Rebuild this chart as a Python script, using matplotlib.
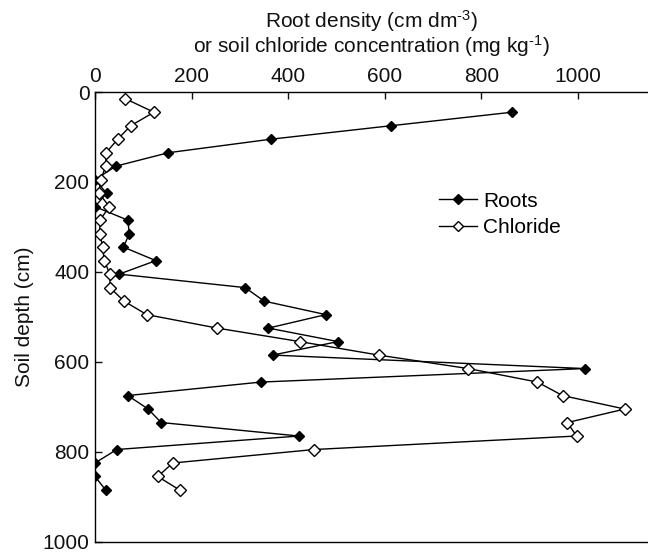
import matplotlib
matplotlib.use("Agg")
import matplotlib.pyplot as plt

plt.rcParams['font.family'] = ['Liberation Sans', 'DejaVu Sans']
plt.rcParams['mathtext.fontset'] = 'custom'
plt.rcParams['mathtext.rm'] = 'Liberation Sans'
plt.rcParams['mathtext.it'] = 'Liberation Sans:italic'

root_depth = [45, 75, 105, 135, 165, 195, 225, 255, 285, 315, 345, 375, 405, 435, 465,
              495, 525, 555, 585, 615, 645, 675, 705, 735, 765, 795, 825, 855, 885]
roots = [863, 613, 364, 152, 43, 0, 24, 0, 68, 71, 59, 126, 50, 311, 350,
         478, 359, 503, 368, 1014, 344, 68, 110, 137, 422, 45, 0, 0, 22]

chloride_depth = [15, 45, 75, 105, 135, 165, 195, 225, 255, 285, 315, 345, 375, 405, 435,
                  465, 495, 525, 555, 585, 615, 645, 675, 705, 735, 765, 795, 825, 855, 885]
chloride = [63, 122, 74, 47, 23, 22, 12, 8, 30, 10, 10, 16, 19, 31, 31,
            60, 107, 253, 424, 587, 773, 916, 968, 1097, 978, 997, 454, 161, 130, 175]

x_ticks = [0, 200, 400, 600, 800, 1000]
y_ticks = [0, 200, 400, 600, 800, 1000]

W, H = 648, 556
fig = plt.figure(figsize=(W/100, H/100), dpi=100)
ax = fig.add_axes([95/W, 1-541.7/H, 1-95/W, (541.7-92)/H])

ax.plot(roots, root_depth, color='black', lw=1, marker='D', ms=5.5,
        mfc='black', mec='black', label='Roots')
ax.plot(chloride, chloride_depth, color='black', lw=1, marker='D', ms=6,
        mfc='white', mec='black', mew=1, label='Chloride')

ax.set_xlim(0, 1145)
ax.set_ylim(1000, 0)
ax.set_xticks(x_ticks)
ax.set_yticks(y_ticks)
ax.xaxis.tick_top()
ax.tick_params(axis='both', direction='in', length=5, width=1, labelsize=15, pad=4,
               colors='#111111')
ax.tick_params(axis='x', top=True, bottom=False)
ax.tick_params(axis='y', right=False)
for s in ['top', 'left', 'bottom']:
    ax.spines[s].set_linewidth(1)
ax.spines['right'].set_visible(False)

xc = (95 + W) / 2 / W
fig.text(xc, 1 - 28/H, 'Root density (cm dm$^{\\text{-3}}$)', ha='center', va='baseline',
         fontsize=15, color='#111111')
fig.text(xc, 1 - 53/H, 'or soil chloride concentration (mg kg$^{\\text{-1}}$)', ha='center',
         va='baseline', fontsize=15, color='#111111')
ax.set_ylabel('Soil depth (cm)', fontsize=15, labelpad=6, color='#111111')

ax.legend(loc='upper left', bbox_to_anchor=(0.607, 0.797), frameon=False, fontsize=15,
          handlelength=1.8, handletextpad=0.3, labelspacing=0.35, borderaxespad=0,
          markerscale=0.85)

fig.savefig('out.png', dpi=100)
